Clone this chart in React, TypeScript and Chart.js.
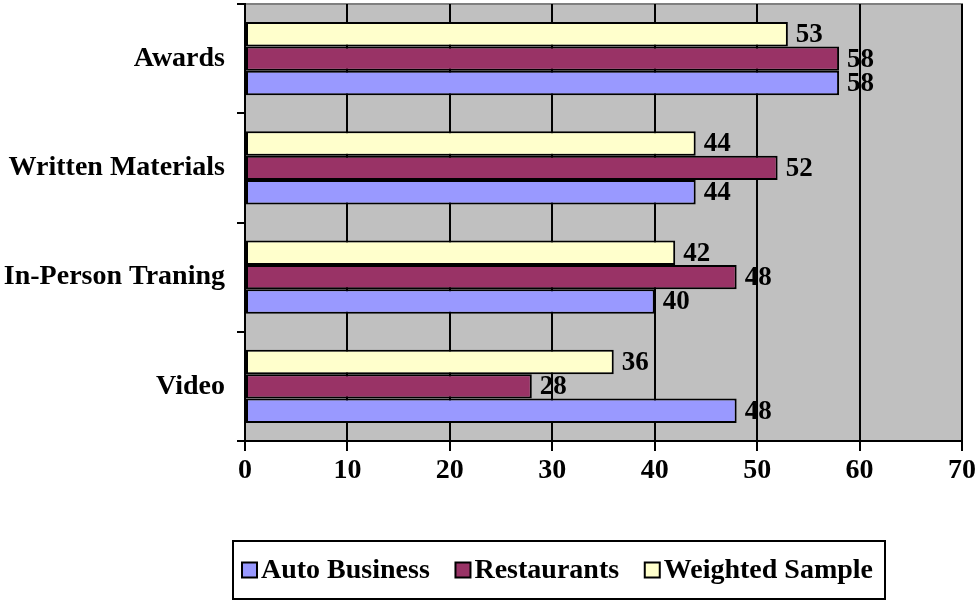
import React, { useEffect, useRef } from "react";
import { Chart, registerables } from "chart.js";

Chart.register(...registerables);

const categories = ["Awards", "Written Materials", "In-Person Traning", "Video"];
const autoBusiness = [58, 44, 40, 48];
const restaurants = [58, 52, 48, 28];
const weightedSample = [53, 44, 42, 36];
const xTicks = [0, 10, 20, 30, 40, 50, 60, 70];

const FONT = "'Liberation Serif', 'Times New Roman', serif";

const plotBg = {
  id: "plotBg",
  beforeDraw(chart: any) {
    const { ctx, chartArea: a } = chart;
    ctx.save();
    ctx.fillStyle = "#C0C0C0";
    ctx.fillRect(a.left, a.top, a.right - a.left, a.bottom - a.top);
    ctx.strokeStyle = "#808080";
    ctx.lineWidth = 2;
    ctx.beginPath();
    ctx.moveTo(a.left, a.top);
    ctx.lineTo(a.right, a.top);
    ctx.lineTo(a.right, a.bottom);
    ctx.stroke();
    ctx.restore();
  },
};

const valueLabels = {
  id: "valueLabels",
  afterDatasetsDraw(chart: any) {
    const { ctx } = chart;
    ctx.save();
    ctx.font = `bold 27px ${FONT}`;
    ctx.fillStyle = "#000";
    ctx.textAlign = "left";
    ctx.textBaseline = "middle";
    chart.data.datasets.forEach((ds: any, i: number) => {
      const meta = chart.getDatasetMeta(i);
      meta.data.forEach((bar: any, j: number) => {
        ctx.fillText(String(ds.data[j]), bar.x + 8, bar.y + 1);
      });
    });
    ctx.restore();
  },
};

const boxLegend = {
  id: "boxLegend",
  afterDraw(chart: any) {
    const { ctx } = chart;
    const items = [...chart.data.datasets].reverse();
    ctx.save();
    ctx.font = `bold 28px ${FONT}`;
    const left = 233;
    const right = 885;
    const top = 541;
    const bottom = 599;
    const cy = (top + bottom) / 2;
    const sw = 15;
    const padL = 9;
    const padR = 12;
    const widths = items.map((ds: any) => sw + 4 + ctx.measureText(ds.label).width);
    const total = widths.reduce((s: number, w: number) => s + w, 0);
    const gap = (right - left - padL - padR - total) / (items.length - 1);
    ctx.lineWidth = 2;
    ctx.strokeStyle = "#000";
    ctx.strokeRect(left, top, right - left, bottom - top);
    let px = left + padL;
    items.forEach((ds: any, k: number) => {
      ctx.fillStyle = ds.backgroundColor;
      ctx.fillRect(px, cy - sw / 2, sw, sw);
      ctx.lineWidth = 2;
      ctx.strokeRect(px, cy - sw / 2, sw, sw);
      ctx.fillStyle = "#000";
      ctx.textAlign = "left";
      ctx.textBaseline = "middle";
      ctx.fillText(ds.label, px + sw + 4, cy + 1);
      px += widths[k] + gap;
    });
    ctx.restore();
  },
};

export default function App() {
  const ref = useRef<HTMLCanvasElement>(null);
  useEffect(() => {
    if (!ref.current) return;
    const chart = new Chart(ref.current, {
      type: "bar",
      data: {
        labels: categories,
        datasets: [
          { label: "Weighted Sample", data: weightedSample, backgroundColor: "#FFFFCC" },
          { label: "Restaurants", data: restaurants, backgroundColor: "#993366" },
          { label: "Auto Business", data: autoBusiness, backgroundColor: "#9999FF" },
        ].map((d) => ({
          ...d,
          borderColor: "#000",
          borderWidth: 2,
          borderSkipped: false,
          categoryPercentage: 0.67,
          barPercentage: 1,
        })),
      },
      options: {
        indexAxis: "y",
        responsive: false,
        animation: false,
        layout: { padding: { top: 4, right: 17, left: 0, bottom: 0 } },
        plugins: { legend: { display: false }, tooltip: { enabled: false } },
        scales: {
          x: {
            min: 0,
            max: 70,
            afterBuildTicks: (s: any) => {
              s.ticks = xTicks.map((v) => ({ value: v }));
            },
            afterFit: (s: any) => {
              s.height = 160;
              s.paddingLeft = 0;
              s.paddingRight = 0;
            },
            grid: { color: "#000", lineWidth: 2, tickLength: 10, drawTicks: true },
            border: { color: "#000", width: 2 },
            ticks: {
              color: "#000",
              padding: 3,
              font: { family: FONT, size: 28, weight: "bold" },
            },
          },
          y: {
            afterFit: (s: any) => {
              s.width = 245;
              s.paddingTop = 0;
              s.paddingBottom = 0;
            },
            grid: { drawOnChartArea: false, color: "#000", lineWidth: 2, tickLength: 8, offset: true },
            border: { color: "#000", width: 2 },
            ticks: {
              color: "#000",
              padding: 12,
              font: { family: FONT, size: 28, weight: "bold" },
            },
          },
        },
      },
      plugins: [plotBg, valueLabels, boxLegend],
    });
    return () => chart.destroy();
  }, []);
  return (
    <div style={{ position: "absolute", left: 0, top: 0, width: 979, height: 601, background: "#fff" }}>
      <canvas ref={ref} width={979} height={601} />
    </div>
  );
}
